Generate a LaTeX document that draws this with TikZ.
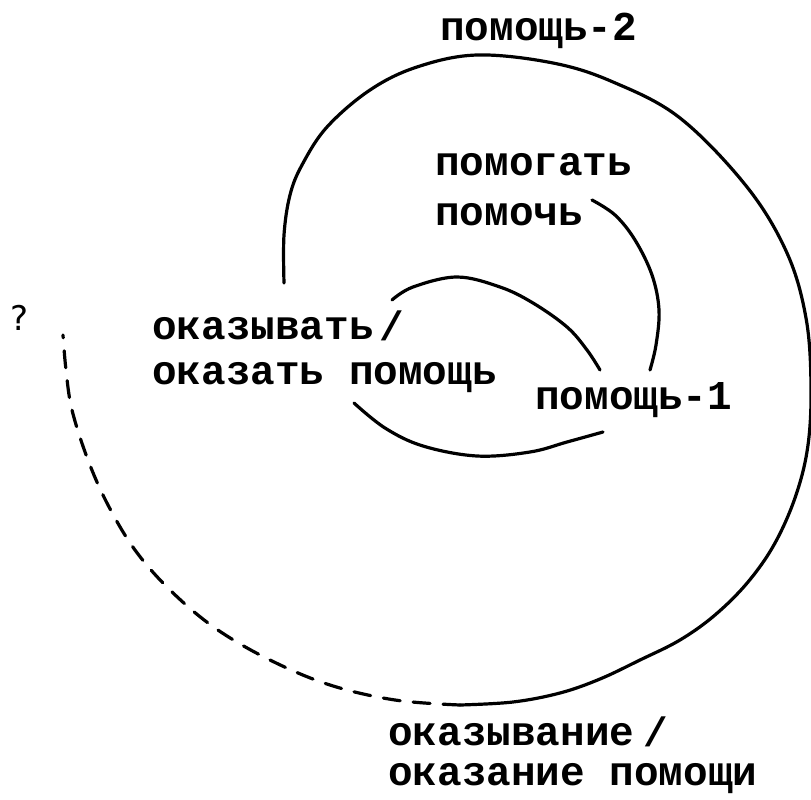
\documentclass[tikz,border=0pt]{standalone}
\usepackage{fontspec}
\setmainfont{Liberation Mono}
\setsansfont{DejaVu Sans}
\begin{document}
\begin{tikzpicture}[x=1pt,y=-1pt,
  lbl/.style={font=\fontsize{41}{48}\selectfont\bfseries, inner sep=0pt, anchor=west},
  qmark/.style={font=\sffamily\fontsize{17}{20}\selectfont, inner sep=0pt, scale=2},
  arc/.style={line width=3.2pt, line cap=round, line join=round}]
\useasboundingbox (0,0) rectangle (811,800);
% labels
\node[lbl] (p2) at (440,31) {помощь-2};
\node[lbl] (pg) at (435,165) {помогать};
\node[lbl] (pc) at (435,215) {помочь};
\node[lbl] (ok1) at (152,329) {оказывать};
\node[lbl] (s1) at (379,326) {/};
\node[lbl] (ok2) at (152,378) {оказать помощь};
\node[lbl] (p1) at (535,400) {помощь-1};
\node[qmark] (q) at (20,318) {?};
\node[lbl] (on1) at (388,735) {оказывание};
\node[lbl] (s2) at (643,732) {/};
\node[lbl] (on2) at (388,779) {оказание помощи};
% inner arc A
\draw[arc] plot[smooth, tension=0.6] coordinates {(392,300) (413,287) (457,277) (500,287) (533,303) (567,327) (587,350) (600,370)};
% inner arc B
\draw[arc] plot[smooth, tension=0.6] coordinates {(354,403) (385,428) (423,446) (477,456) (530,452) (567,442) (603,432)};
% middle arc C
\draw[arc] plot[smooth, tension=0.6] coordinates {(592,200) (615,215) (635,240) (652,275) (659,310) (656,345) (650,370)};
% big arc D
\draw[arc] plot[smooth, tension=0.6] coordinates {(284,283) (284,235) (290,195) (302,165) (327,127) (370,90) (417,67) (477,55) (553,63) (613,82) (680,118) (747,187) (787,253) (806,318) (811,385) (808,445) (796,495) (775,543) (748,582) (715,615) (680,640) (640,660) (600,679) (560,693) (513,702) (460,705)};
% dashed continuation
\draw[arc, dash pattern=on 17pt off 13pt] plot[smooth, tension=0.6] coordinates {(460,705) (395,700) (330,685) (270,660) (215,628) (170,590) (135,550) (108,505) (88,460) (72,410) (66,370) (63,335)};
\end{tikzpicture}
\end{document}
